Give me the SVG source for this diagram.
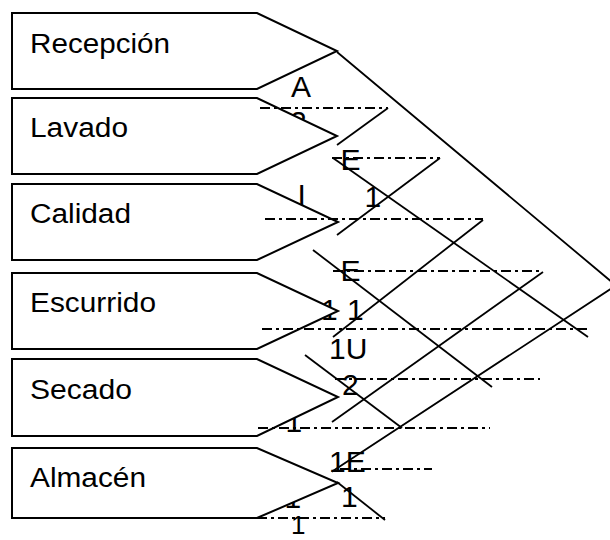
<svg xmlns="http://www.w3.org/2000/svg" width="610" height="540" viewBox="0 0 610 540">
<style>
.node{fill:#fff;stroke:#000;stroke-width:2}
.name{font-family:"Liberation Sans",Arial,sans-serif;font-size:27px;fill:#000}
.code{font-family:"Liberation Sans",Arial,sans-serif;font-size:30px;fill:#000}
.ln{fill:none;stroke:#000;stroke-width:1.8}
.dd{fill:none;stroke:#000;stroke-width:1.8;stroke-dasharray:10 4 3 4}
</style>
<rect width="610" height="540" fill="#fff"/>
<g id="labels">
<text class="code" x="291" y="97">A</text>
<text class="code" x="290" y="132">2</text>
<text class="code" x="340.6" y="170">E</text>
<text class="code" x="297.5" y="205">I</text>
<text class="code" x="364.5" y="207">1</text>
<text class="code" x="340.6" y="281">E</text>
<text class="code" x="321" y="320">1</text>
<text class="code" x="347" y="320">1</text>
<text class="code" x="329" y="359">1U</text>
<text class="code" x="342" y="395">2</text>
<text class="code" x="285.5" y="432">1</text>
<text class="code" x="329" y="472">1E</text>
<text class="code" x="284.5" y="508">1</text>
<text class="code" x="341" y="507">1</text>
<text class="code" x="291" y="534" style="font-size:26px">1</text>
</g>
<g id="recepcion">
<polygon class="node" points="12,13 257,13 337,51 257,89 12,89"/>
<text class="name" x="30" y="53" textLength="140" lengthAdjust="spacingAndGlyphs">Recepción</text>
</g>
<g id="lavado">
<polygon class="node" points="12,98 257,98 337,136 257,174 12,174"/>
<text class="name" x="30" y="137" textLength="98" lengthAdjust="spacingAndGlyphs">Lavado</text>
</g>
<g id="calidad">
<polygon class="node" points="12,184 257,184 338,222 257,260 12,260"/>
<text class="name" x="30" y="223" textLength="101" lengthAdjust="spacingAndGlyphs">Calidad</text>
</g>
<g id="escurrido">
<polygon class="node" points="12,273 257,273 338,311 257,349 12,349"/>
<text class="name" x="30" y="312" textLength="126" lengthAdjust="spacingAndGlyphs">Escurrido</text>
</g>
<g id="secado">
<polygon class="node" points="12,359 257,359 338,397 257,436 12,436"/>
<text class="name" x="30" y="399" textLength="102" lengthAdjust="spacingAndGlyphs">Secado</text>
</g>
<g id="almacen">
<polygon class="node" points="12,448 257,448 338,483 257,518 12,518"/>
<text class="name" x="30" y="487" textLength="116" lengthAdjust="spacingAndGlyphs">Almacén</text>
</g>
<g id="connectors">
<polyline class="ln" points="337,52 616,285.5 331.7,471.7"/>
<line class="ln" x1="337" y1="145" x2="388" y2="108"/>
<line class="ln" x1="333" y1="158" x2="588" y2="337"/>
<line class="ln" x1="337" y1="235" x2="440" y2="158"/>
<line class="ln" x1="483" y1="220" x2="333" y2="337"/>
<line class="ln" x1="313" y1="250" x2="492" y2="387"/>
<line class="ln" x1="543" y1="272" x2="332" y2="422"/>
<line class="ln" x1="305" y1="355" x2="402" y2="428"/>
<line class="ln" x1="337" y1="482" x2="385" y2="520"/>
<line class="dd" x1="260" y1="108" x2="388" y2="108"/>
<line class="dd" x1="332" y1="158" x2="440" y2="158"/>
<line class="dd" x1="265" y1="219" x2="483" y2="219"/>
<line class="dd" x1="333" y1="271" x2="543" y2="271"/>
<line class="dd" x1="262" y1="329" x2="590" y2="329"/>
<line class="dd" x1="335" y1="379" x2="540" y2="379"/>
<line class="dd" x1="258" y1="428" x2="490" y2="428"/>
<line class="dd" x1="340" y1="469" x2="432" y2="469"/>
<line class="dd" x1="257" y1="518" x2="385" y2="518"/>
</g>
</svg>
